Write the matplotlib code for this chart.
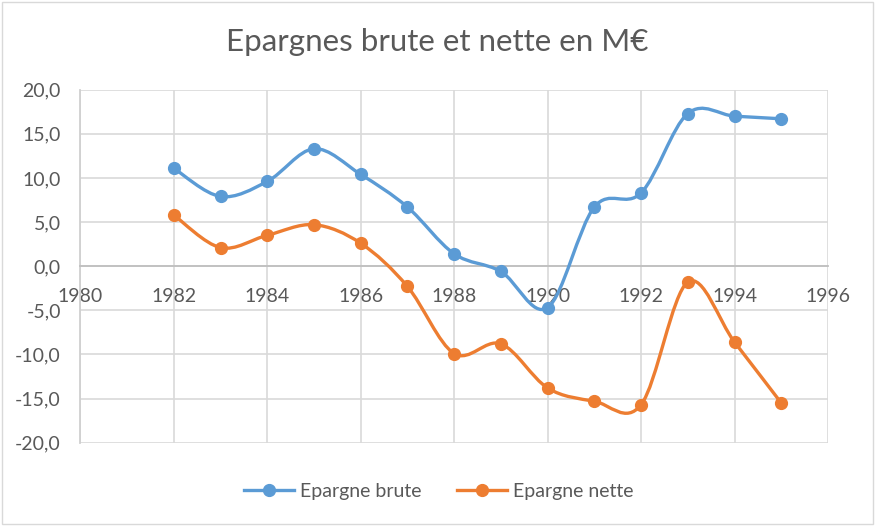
import matplotlib.pyplot as plt
from matplotlib.path import Path
from matplotlib.patches import PathPatch, Rectangle
from matplotlib.lines import Line2D

plt.rcParams['font.family'] = ['Lato', 'DejaVu Sans']

years = [1982, 1983, 1984, 1985, 1986, 1987, 1988, 1989, 1990, 1991, 1992, 1993, 1994, 1995]
brute = [11.1, 7.9, 9.6, 13.3, 10.4, 6.7, 1.4, -0.6, -4.7, 6.7, 8.3, 17.3, 17.0, 16.7]
nette = [5.8, 2.1, 3.5, 4.7, 2.6, -2.3, -9.9, -8.8, -13.8, -15.3, -15.7, -1.8, -8.6, -15.5]
series_names = ['Epargne brute', 'Epargne nette']
colors = ['#5B9BD5', '#ED7D31']
x_ticks = list(range(1980, 1997, 2))
y_ticks = [-20, -15, -10, -5, 0, 5, 10, 15, 20]
title = 'Epargnes brute et nette en M€'


def smooth_path(xs, ys):
    # Excel-like smoothed line: Catmull-Rom converted to cubic Bezier segments
    pts = list(zip(xs, ys))
    verts = [pts[0]]
    codes = [Path.MOVETO]
    n = len(pts)
    for i in range(n - 1):
        p0 = pts[i - 1] if i > 0 else pts[i]
        p1 = pts[i]
        p2 = pts[i + 1]
        p3 = pts[i + 2] if i + 2 < n else pts[i + 1]
        c1 = (p1[0] + (p2[0] - p0[0]) / 6, p1[1] + (p2[1] - p0[1]) / 6)
        c2 = (p2[0] - (p3[0] - p1[0]) / 6, p2[1] - (p3[1] - p1[1]) / 6)
        verts += [c1, c2, p2]
        codes += [Path.CURVE4] * 3
    return Path(verts, codes)


fig = plt.figure(figsize=(8.77, 5.26), dpi=100)
ax = fig.add_axes([0.0916, 0.1584, 0.8525, 0.6711])

for vals, c in zip([brute, nette], colors):
    ax.add_patch(PathPatch(smooth_path(years, vals), fill=False, edgecolor=c,
                           lw=2.4, capstyle='round', joinstyle='round', zorder=3))
    ax.plot(years, vals, 'o', color=c, markersize=8.5, zorder=4)

ax.set_xlim(1980, 1996)
ax.set_ylim(-20, 20)
ax.set_xticks(x_ticks)
ax.set_yticks(y_ticks)
ax.set_yticklabels([f'{v:.1f}'.replace('.', ',') for v in y_ticks])
ax.grid(True, color='#D9D9D9', lw=1.2, zorder=0)
ax.set_axisbelow(True)

for s in ['top', 'right']:
    ax.spines[s].set_visible(False)
ax.spines['bottom'].set_position(('data', 0))
ax.spines['bottom'].set_color('#BFBFBF')
ax.spines['bottom'].set_linewidth(1.3)
ax.spines['left'].set_color('#D0D0D0')
ax.spines['left'].set_linewidth(1.3)

ax.tick_params(axis='both', length=0, labelsize=14, labelcolor='#595959')
ax.tick_params(axis='x', pad=16)
ax.tick_params(axis='y', pad=14)

fig.text(0.499, 0.92, title, ha='center', va='center', fontsize=22.5, color='#595959')

handles = [Line2D([], [], color=c, lw=2.4, marker='o', markersize=8.5) for c in colors]
fig.legend(handles, series_names, loc='center', bbox_to_anchor=(0.5, 0.066), ncol=2,
           frameon=False, fontsize=14, labelcolor='#595959', handlelength=2.6,
           handletextpad=0.3, columnspacing=1.8)

fig.patches.append(Rectangle((0.002, 0.004), 0.994, 0.992, transform=fig.transFigure,
                             fill=False, edgecolor='#D9D9D9', lw=1))

fig.savefig('out.png', dpi=100)
